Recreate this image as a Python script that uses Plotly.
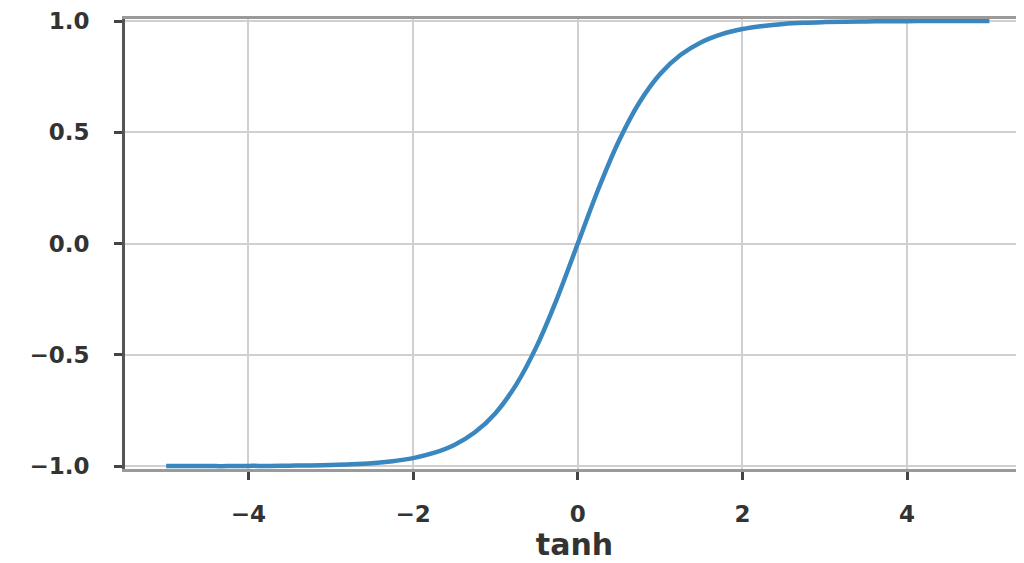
import plotly.graph_objects as go

# values
x_vals = [-5.0, -4.75, -4.5, -4.25, -4.0, -3.75, -3.5, -3.25, -3.0, -2.75, -2.5, -2.25,
          -2.0, -1.75, -1.5, -1.25, -1.0, -0.75, -0.5, -0.25, 0.0,
          0.25, 0.5, 0.75, 1.0, 1.25, 1.5, 1.75, 2.0, 2.25, 2.5, 2.75, 3.0,
          3.25, 3.5, 3.75, 4.0, 4.25, 4.5, 4.75, 5.0]
y_vals = [-1.0, -1.0, -1.0, -1.0, -0.999, -0.999, -0.998, -0.997, -0.995, -0.992, -0.987, -0.978,
          -0.964, -0.941, -0.905, -0.848, -0.762, -0.635, -0.462, -0.245, 0.0,
          0.245, 0.462, 0.635, 0.762, 0.848, 0.905, 0.941, 0.964, 0.978, 0.987, 0.992, 0.995,
          0.997, 0.998, 0.999, 0.999, 1.0, 1.0, 1.0, 1.0]
x_ticks = [-4, -2, 0, 2, 4]
y_ticks = [-1.0, -0.5, 0.0, 0.5, 1.0]
y_tick_text = ["\u22121.0", "\u22120.5", "0.0", "0.5", "1.0"]
x_tick_text = ["\u22124", "\u22122", "0", "2", "4"]
x_label = "tanh"

fig = go.Figure()
fig.add_trace(go.Scatter(x=x_vals, y=y_vals, mode="lines",
                         line=dict(color="#3a86bf", width=4.5, shape="spline"),
                         showlegend=False))

tickfont = dict(family="DejaVu Sans", size=23, color="#333333", weight="bold")
fig.update_layout(
    width=1016, height=555,
    margin=dict(l=117, r=0, t=11, b=94),
    paper_bgcolor="white", plot_bgcolor="white",
    xaxis=dict(range=[-5.5, 5.42], tickvals=x_ticks, ticktext=x_tick_text,
               showgrid=True, gridcolor="#d0d0d0", gridwidth=2,
               zeroline=False, showline=True, linecolor="#9a9a9a", linewidth=3,
               mirror=True, ticks="outside", ticklen=8, tickwidth=3, tickcolor="#444",
               ticklabelstandoff=14,
               title=dict(text=x_label, standoff=8,
                          font=dict(family="DejaVu Sans", size=30, color="#333333", weight="bold")),
               tickfont=tickfont),
    yaxis=dict(range=[-1.013, 1.009], tickvals=y_ticks, ticktext=y_tick_text,
               showgrid=True, gridcolor="#d0d0d0", gridwidth=2,
               zeroline=False, showline=True, linecolor="#555555", linewidth=3,
               ticks="outside", ticklen=8, tickwidth=3, tickcolor="#444",
               ticklabelstandoff=20,
               tickfont=tickfont),
)
fig.write_html("out.html")
